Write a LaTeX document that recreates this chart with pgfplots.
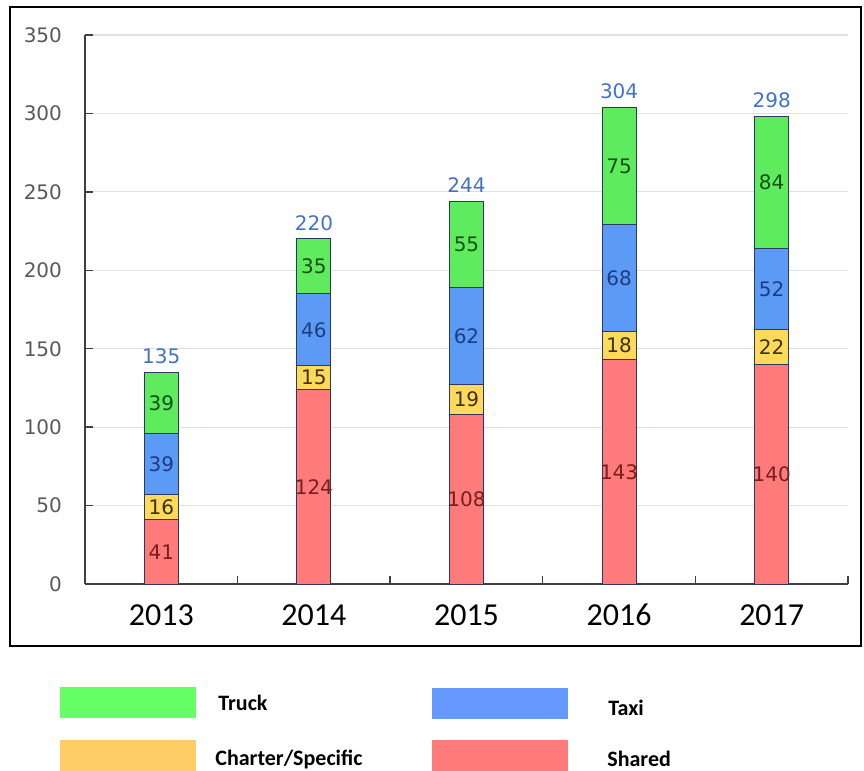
\documentclass[border=0pt]{standalone}
\usepackage{pgfplots}
\pgfplotsset{compat=1.18}
\usepackage{pgfplotstable}
\usepackage{fontspec}
\setmainfont{Carlito}
\newfontfamily\dv{DejaVu Sans}
\definecolor{cTruck}{HTML}{5EEB5E}
\definecolor{cTaxi}{HTML}{5B9BF5}
\definecolor{cCharter}{HTML}{FFD95A}
\definecolor{cShared}{HTML}{FF7A7A}
\definecolor{lTruck}{HTML}{66FF66}
\definecolor{lTaxi}{HTML}{6699FF}
\definecolor{lCharter}{HTML}{FFCC66}
\definecolor{lShared}{HTML}{FF7B7B}
\definecolor{cEdge}{RGB}{45,55,95}
\definecolor{cTotal}{RGB}{68,114,196}
\definecolor{tTruck}{RGB}{20,80,20}
\definecolor{tTaxi}{RGB}{30,60,130}
\definecolor{tCharter}{RGB}{60,50,20}
\definecolor{tShared}{RGB}{120,30,30}

\pgfplotstableread{
x shared charter taxi truck total
0 41  16 39 39 135
1 124 15 46 35 220
2 108 19 62 55 244
3 143 18 68 75 304
4 140 22 52 84 298
}\datatable

\pgfplotsset{
  seg/.style={
    fill=#1, draw=cEdge, line width=0.5pt,
    nodes near coords,
    point meta=explicit,
    every node near coord/.append style={anchor=center, inner sep=0pt,
      font=\dv\fontsize{10}{12}\selectfont},
  },
  geom/.style={
    at={(42.5pt,-292pt)}, anchor=south west,
    scale only axis, width=381.5pt, height=274.5pt,
    xmin=-0.5, xmax=4.5, ymin=0, ymax=350,
    clip=false,
    /pgf/number format/assume math mode=true,
  },
}

\begin{document}
\begin{tikzpicture}
\useasboundingbox (0,0) rectangle (432pt,-385.5pt);
\begin{axis}[
  geom,
  ybar stacked, bar width=17pt,
  axis x line*=bottom, axis y line*=left,
  axis line style={draw=black!75, line width=0.7pt},
  xtick={0,1,2,3,4}, xticklabels={2013,2014,2015,2016,2017},
  major x tick style={draw=none},
  minor xtick={0.5,1.5,2.5,3.5,4.5},
  minor tick length=4pt,
  ytick={0,50,...,350},
  major tick length=4pt, tick align=inside,
  tick style={draw=black!75, line width=0.7pt},
  ymajorgrids, grid style={draw=black!12, line width=0.6pt},
  xticklabel style={font=\fontsize{16}{19}\selectfont, anchor=center, yshift=-15.5pt},
  yticklabel style={font=\dv\fontsize{10}{12}\selectfont, text=black!65, xshift=-8pt},
]
\addplot[seg=cShared, every node near coord/.append style={text=tShared}] table[x=x, y=shared, meta=shared]{\datatable};
\addplot[seg=cCharter, every node near coord/.append style={text=tCharter}] table[x=x, y=charter, meta=charter]{\datatable};
\addplot[seg=cTaxi, every node near coord/.append style={text=tTaxi}] table[x=x, y=taxi, meta=taxi]{\datatable};
\addplot[seg=cTruck, every node near coord/.append style={text=tTruck}] table[x=x, y=truck, meta=truck]{\datatable};
\end{axis}
\begin{axis}[geom, hide axis]
\addplot[draw=none, mark=none, nodes near coords, point meta=explicit,
  every node near coord/.append style={anchor=south, inner sep=0pt, yshift=4pt,
    text=cTotal, font=\dv\fontsize{10}{12}\selectfont}] table[x=x, y=total, meta=total]{\datatable};
\end{axis}
% frame
\draw[black, line width=0.9pt] (5pt,-3.5pt) rectangle (430.5pt,-323pt);
% legend
\fill[lTruck]   (30pt,-343.5pt) rectangle (98pt,-359pt);
\fill[lTaxi]    (216pt,-344pt) rectangle (284pt,-359.5pt);
\fill[lCharter] (30pt,-370pt) rectangle (98pt,-385.5pt);
\fill[lShared]  (216pt,-370pt) rectangle (284pt,-385.5pt);
\begin{scope}[every node/.style={anchor=west, inner sep=0pt, font=\bfseries\fontsize{11}{13}\selectfont}]
\node at (109pt,-351.5pt) {Truck};
\node at (304pt,-354pt) {Taxi};
\node at (107.5pt,-379.5pt) {Charter/Specific};
\node at (303.5pt,-379.5pt) {Shared};
\end{scope}
\end{tikzpicture}
\end{document}
